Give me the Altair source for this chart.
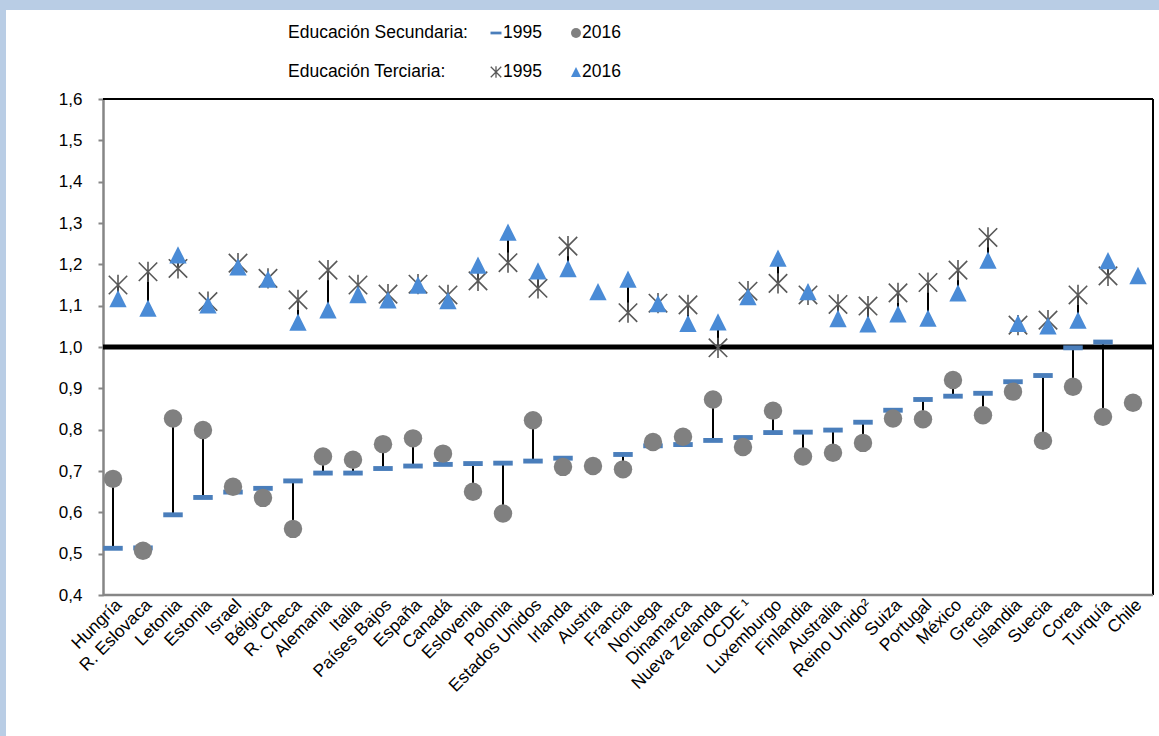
import altair as alt
import pandas as pd

countries = ["Hungría", "R. Eslovaca", "Letonia", "Estonia", "Israel", "Bélgica", "R. Checa",
             "Alemania", "Italia", "Países Bajos", "España", "Canadá", "Eslovenia", "Polonia",
             "Estados Unidos", "Irlanda", "Austria", "Francia", "Noruega", "Dinamarca",
             "Nueva Zelanda", "OCDE ¹", "Luxemburgo", "Finlandia", "Australia", "Reino Unido²",
             "Suiza", "Portugal", "México", "Grecia", "Islandia", "Suecia", "Corea", "Turquía", "Chile"]

sec_1995 = [0.513, 0.514, 0.594, 0.636, 0.649, 0.658, 0.676, 0.695, 0.695, 0.706, 0.712, 0.716,
            0.718, 0.719, 0.724, 0.731, None, 0.740, 0.761, 0.764, 0.774, 0.781, 0.793, 0.794,
            0.799, 0.818, 0.847, 0.873, 0.881, 0.888, 0.916, 0.931, 0.998, 1.012, None]
sec_2016 = [0.681, 0.507, 0.827, 0.799, 0.662, 0.635, 0.560, 0.735, 0.727, 0.765, 0.779, 0.742,
            0.650, 0.597, 0.823, 0.710, 0.712, 0.704, 0.770, 0.783, 0.873, 0.758, 0.846, 0.735,
            0.744, 0.768, 0.827, 0.825, 0.920, 0.835, 0.892, 0.773, 0.904, 0.831, 0.865]
ter_1995 = [1.150, 1.182, 1.190, 1.110, 1.203, 1.166, 1.114, 1.186, 1.150, 1.128, 1.152, 1.126,
            1.160, 1.204, 1.142, 1.244, None, 1.083, 1.106, 1.102, 0.998, 1.135, 1.154, 1.126,
            1.103, 1.099, 1.131, 1.156, 1.186, 1.265, 1.053, 1.065, 1.126, 1.172, None]
ter_2016 = [1.117, 1.094, 1.223, 1.102, 1.194, 1.164, 1.060, 1.090, 1.127, 1.114, 1.150, 1.112,
            1.198, 1.278, 1.184, 1.190, 1.134, 1.164, 1.105, 1.057, 1.061, 1.122, 1.215, 1.134,
            1.069, 1.056, 1.080, 1.070, 1.131, 1.210, 1.057, 1.051, 1.065, 1.209, 1.173]
y_ticks = [0.4, 0.5, 0.6, 0.7, 0.8, 0.9, 1.0, 1.1, 1.2, 1.3, 1.4, 1.5, 1.6]

legend_row1 = "Educación Secundaria:"
legend_row2 = "Educación Terciaria:"
legend_years = ["1995", "2016"]

df = pd.DataFrame({"country": countries, "s95": sec_1995, "s16": sec_2016,
                   "t95": ter_1995, "t16": ter_2016})

FONT = "Liberation Sans"
W, H = 1050, 496
DASH = "M-1,-0.25L1,-0.25L1,0.25L-1,0.25Z"
STAR = "M-1,-1L1,1M-1,1L1,-1M0,-1.1L0,1.1"
TRI = "M0,-1L1,1L-1,1Z"
BLUE_D = "#4a7ebb"
BLUE_T = "#4a8bd6"
GRAY_C = "#808080"
GRAY_S = "#595959"

xenc = alt.X("country:N", sort=countries, scale=alt.Scale(range=[-5, 1045]),
             axis=alt.Axis(title=None, domain=False, ticks=False, labelAngle=-45,
                           labelAlign="right", labelBaseline="middle", labelFontSize=17.5,
                           labelFont=FONT, labelColor="#000000", labelPadding=7,
                           labelOffset=6))
yscale = alt.Scale(domain=[0.4, 1.6], nice=False, zero=False)
yenc = lambda f: alt.Y(f"{f}:Q", scale=yscale,
                       axis=alt.Axis(title=None, values=y_ticks, grid=False,
                                     labelExpr="replace(format(datum.value, '.1f'), '.', ',')",
                                     labelFontSize=17, labelFont=FONT, labelColor="#000000",
                                     domainColor="#868686", domainWidth=2.5,
                                     tickColor="#868686", tickWidth=2, tickSize=5,
                                     labelPadding=16))

base = alt.Chart(df)
one = alt.Chart(pd.DataFrame({"a": [0]}))

# decorations: blue frame strips
strip_top = one.mark_rect(color="#b9cde5").encode(
    x=alt.value(-103), x2=alt.value(1056), y=alt.value(-99), y2=alt.value(-89))
strip_left = one.mark_rect(color="#b9cde5").encode(
    x=alt.value(-103), x2=alt.value(-97), y=alt.value(-99), y2=alt.value(637))

sec_rules = base.transform_filter("isValid(datum.s95) && isValid(datum.s16)").mark_rule(
    color="black", strokeWidth=2).encode(x=xenc, y=yenc("s95"), y2="s16:Q")
ter_rules = base.transform_filter("isValid(datum.t95) && isValid(datum.t16)").mark_rule(
    color="black", strokeWidth=2, xOffset=5).encode(x=xenc, y=yenc("t95"), y2="t16:Q")

s95 = base.mark_point(shape=DASH, filled=True, size=380, color=BLUE_D, opacity=1).encode(
    x=xenc, y=yenc("s95"))
s16 = base.mark_point(shape="circle", filled=True, size=340, color=GRAY_C, opacity=1).encode(
    x=xenc, y=yenc("s16"))
t95 = base.mark_point(shape=STAR, filled=False, size=340, color=GRAY_S, strokeWidth=1.6,
                      opacity=1, xOffset=5).encode(x=xenc, y=yenc("t95"))
t16 = base.mark_point(shape=TRI, filled=True, size=300, color=BLUE_T, opacity=1,
                      xOffset=5).encode(x=xenc, y=yenc("t16"))

one_line = one.mark_rule(color="black", strokeWidth=5).encode(y=alt.datum(1.0))
top_line = one.mark_rule(color="black", strokeWidth=2).encode(y=alt.datum(1.6))
bottom_line = one.mark_rule(color="#868686", strokeWidth=2.5).encode(y=alt.datum(0.4))
right_line = one.mark_rule(color="black", strokeWidth=2).encode(
    x=alt.value(W), y=alt.value(0), y2=alt.value(H))

# legend (custom two-row)
LX_LABEL, LX_M1, LX_T1, LX_M2, LX_T2 = 185, 393, 400, 473, 479
R1, R2 = -66, -27
txt = dict(font=FONT, fontSize=17.5, color="#000000", align="left", baseline="middle")
leg = [
    one.mark_text(**txt, text=legend_row1).encode(x=alt.value(LX_LABEL), y=alt.value(R1)),
    one.mark_text(**txt, text=legend_row2).encode(x=alt.value(LX_LABEL), y=alt.value(R2)),
    one.mark_text(**txt, text=legend_years[0]).encode(x=alt.value(LX_T1), y=alt.value(R1)),
    one.mark_text(**txt, text=legend_years[1]).encode(x=alt.value(LX_T2), y=alt.value(R1)),
    one.mark_text(**txt, text=legend_years[0]).encode(x=alt.value(LX_T1), y=alt.value(R2)),
    one.mark_text(**txt, text=legend_years[1]).encode(x=alt.value(LX_T2), y=alt.value(R2)),
    one.mark_point(shape=DASH, filled=True, size=121, color=BLUE_D, opacity=1).encode(
        x=alt.value(LX_M1), y=alt.value(R1)),
    one.mark_point(shape="circle", filled=True, size=100, color=GRAY_C, opacity=1).encode(
        x=alt.value(LX_M2), y=alt.value(R1)),
    one.mark_point(shape=STAR, filled=False, size=110, color=GRAY_S, strokeWidth=1.3,
                   opacity=1).encode(x=alt.value(LX_M1), y=alt.value(R2)),
    one.mark_point(shape=TRI, filled=True, size=100, color=BLUE_T, opacity=1).encode(
        x=alt.value(LX_M2), y=alt.value(R2)),
]

chart = alt.layer(
    strip_top, strip_left, sec_rules, ter_rules, one_line, top_line, right_line, bottom_line,
    s95, s16, t95, t16, *leg
).properties(
    width=W, height=H,
    autosize=alt.AutoSizeParams(type="none"),
    padding={"left": 103, "top": 99, "right": 6, "bottom": 141},
    background="white",
).configure_view(stroke=None)

chart.save("out.html", embed_options={"renderer": "svg", "actions": False})
